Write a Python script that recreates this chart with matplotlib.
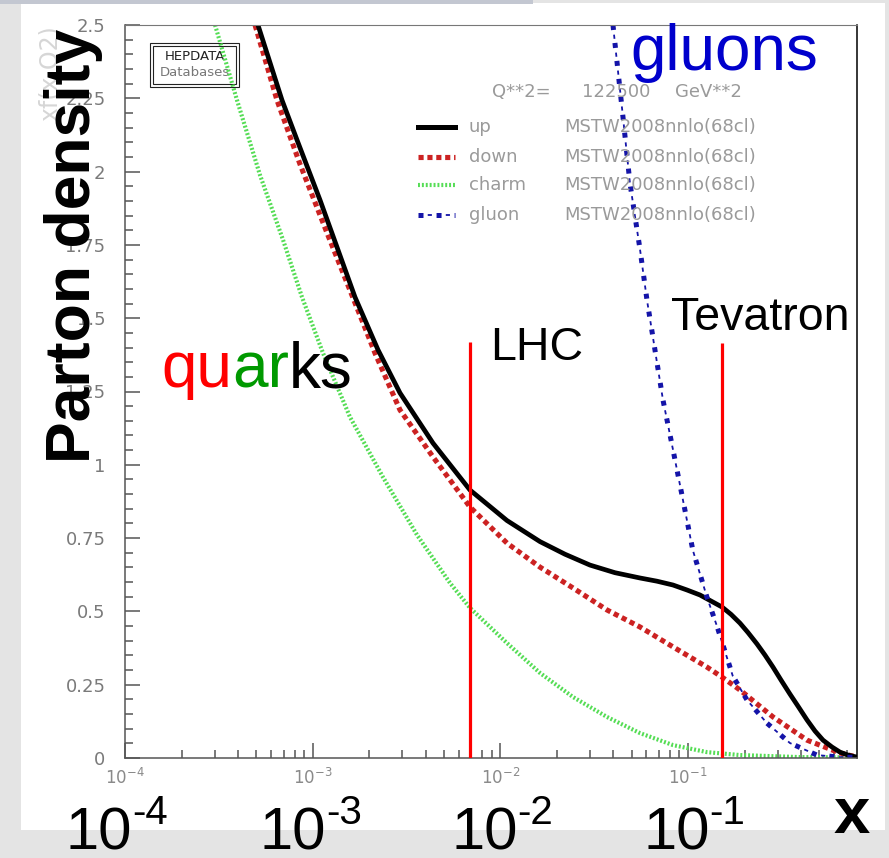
import numpy as np
import matplotlib
matplotlib.use("Agg")
import matplotlib.pyplot as plt
from matplotlib.lines import Line2D
from matplotlib.patches import Rectangle
from matplotlib.ticker import MultipleLocator, LogLocator, FuncFormatter, NullFormatter

plt.rcParams['lines.scale_dashes'] = False

# parton densities xf(x, Q^2)
up_x = [5.11e-4, 6.86e-4, 8.25e-4, 1.094e-3, 1.364e-3, 1.680e-3, 2.228e-3, 2.918e-3, 4.374e-3,
        6.887e-3, 1.084e-2, 1.626e-2, 2.209e-2, 3.001e-2, 4.078e-2, 5.54e-2, 6.83e-2, 8.31e-2,
        9.87e-2, 0.1157, 0.1516, 0.1693, 0.1890, 0.2085, 0.2329, 0.2569, 0.2834, 0.3126,
        0.3490, 0.385, 0.4300, 0.4745, 0.5233, 0.5843, 0.6447, 0.711, 0.794]
up_y = [2.500, 2.244, 2.108, 1.903, 1.733, 1.572, 1.392, 1.245, 1.074,
        0.914, 0.810, 0.738, 0.695, 0.658, 0.632, 0.614, 0.603, 0.590,
        0.573, 0.556, 0.515, 0.490, 0.460, 0.428, 0.389, 0.351, 0.310, 0.266,
        0.218, 0.177, 0.130, 0.092, 0.061, 0.0375, 0.020, 0.010, 0.003]

down_x = [4.93e-4, 6.45e-4, 8.55e-4, 1.192e-3, 1.947e-3, 2.147e-3, 2.918e-3, 4.374e-3, 6.887e-3,
          1.084e-2, 1.626e-2, 2.436e-2, 3.697e-2, 5.54e-2, 8.31e-2, 0.1261, 0.1516, 0.1890,
          0.2834, 0.4300, 0.6447, 0.794]
down_y = [2.500, 2.244, 2.026, 1.791, 1.450, 1.381, 1.187, 1.027, 0.856,
          0.733, 0.651, 0.580, 0.505, 0.447, 0.379, 0.310, 0.276, 0.232,
          0.140, 0.061, 0.017, 0.003]

charm_x = [3.018e-4, 3.95e-4, 5.24e-4, 6.95e-4, 8.77e-4, 1.135e-3, 1.580e-3, 2.368e-3, 3.594e-3,
           5.388e-3, 6.887e-3, 1.084e-2, 1.626e-2, 2.436e-2, 3.697e-2, 5.54e-2, 8.31e-2,
           0.1261, 0.1890, 0.3947, 0.794]
charm_y = [2.500, 2.244, 1.988, 1.767, 1.572, 1.381, 1.163, 0.958, 0.761,
           0.597, 0.512, 0.392, 0.290, 0.208, 0.140, 0.085, 0.044,
           0.020, 0.010, 0.003, 0.002]

gluon_x = [3.98e-2, 4.50e-2, 4.90e-2, 5.55e-2, 6.04e-2, 6.66e-2, 7.35e-2, 8.32e-2, 9.39e-2,
           0.106, 0.126, 0.143, 0.1535, 0.173, 0.206, 0.263, 0.349, 0.486, 0.644, 0.794]
gluon_y = [2.50, 2.186, 1.961, 1.733, 1.562, 1.392, 1.221, 1.050, 0.880,
           0.709, 0.549, 0.447, 0.385, 0.280, 0.198, 0.119, 0.051, 0.010, 0.003, 0.002]

# collider markers (x position, top of the red bar)
collider_names = ['LHC', 'Tevatron']
collider_x = [6.9e-3, 0.151]
collider_top = [1.42, 1.415]

legend_names = ['up', 'down', 'charm', 'gluon']
pdf_set = 'MSTW2008nnlo(68cl)'

W, H = 889, 858
def fx(px):
    return px / W
def fy(py):
    return 1 - py / H

fig = plt.figure(figsize=(W / 100, H / 100), dpi=100, facecolor='#e4e4e4')
fig.patches.append(Rectangle((fx(21), fy(830)), fx(885) - fx(21), fy(3) - fy(830),
                             transform=fig.transFigure, facecolor='white',
                             edgecolor='none', zorder=-10))
fig.patches.append(Rectangle((0, fy(4)), 0.6, 4 / H, transform=fig.transFigure,
                             facecolor='#c3c7d1', edgecolor='none', zorder=-9))

ax = fig.add_axes([fx(125), fy(758), fx(857) - fx(125), fy(25) - fy(758)])
ax.set_xscale('log')
ax.set_xlim(1e-4, 10 ** -0.1)
ax.set_ylim(0, 2.5)

blue = '#1414a8'
ax.plot(charm_x, charm_y, color='#55dd55', lw=3.0, linestyle=(0, (1.4, 1.4)), zorder=2)
ax.plot(down_x, down_y, color='#cc2222', lw=3.7, linestyle=(0, (3.7, 2.7)), zorder=2)
ax.plot(up_x, up_y, color='black', lw=3.4, solid_joinstyle='round', zorder=2.2)
ax.plot(gluon_x, gluon_y, color=blue, lw=3.6, linestyle=(0, (3.6, 9.4)), zorder=2.3)
ax.plot(gluon_x, gluon_y, color=blue, lw=1.3, linestyle=(6, (3, 10)), zorder=2.3)

ax.vlines(collider_x, 0, collider_top, colors='#ff0000', lw=2.3, zorder=3)

# axes styling, ROOT-like
ax.yaxis.set_major_locator(MultipleLocator(0.25))
ax.yaxis.set_minor_locator(MultipleLocator(0.05))
ax.yaxis.set_major_formatter(FuncFormatter(lambda v, p: f'{v:g}'))
ax.xaxis.set_major_locator(LogLocator(base=10))
ax.xaxis.set_minor_locator(LogLocator(base=10, subs=np.arange(2, 10)))
ax.xaxis.set_minor_formatter(NullFormatter())
ax.tick_params(which='both', direction='in', color='#555555', width=1.1,
               top=False, right=False)
ax.tick_params(which='major', length=10.8)
ax.tick_params(which='minor', length=5.8)
ax.tick_params(axis='y', labelsize=13, labelcolor='#7a7a7a', pad=14)
ax.tick_params(axis='x', labelsize=12, labelcolor='#8a8a8a', pad=7)
for s in ['left', 'bottom']:
    ax.spines[s].set_color('#555555')
    ax.spines[s].set_linewidth(1.1)
ax.spines['top'].set_color('#777777')
ax.spines['top'].set_linewidth(0.8)
ax.spines['right'].set_color('black')
ax.spines['right'].set_linewidth(1.1)

# HEPDATA stamp
ax.add_patch(Rectangle((fx(150), fy(87)), fx(239) - fx(150), fy(43) - fy(87),
                       transform=fig.transFigure, fill=False, ec='#222222', lw=0.8, zorder=1))
ax.add_patch(Rectangle((fx(153), fy(84)), fx(236) - fx(153), fy(46) - fy(84),
                       transform=fig.transFigure, fill=False, ec='#222222', lw=0.8, zorder=1))
ax.text(fx(195), fy(57), 'HEPDATA', transform=fig.transFigure, ha='center', va='center',
        fontsize=9.5, color='#222222', zorder=1)
ax.text(fx(195), fy(73), 'Databases', transform=fig.transFigure, ha='center', va='center',
        fontsize=9.5, color='#777777', zorder=1)

# ROOT legend
grey = '#9a9a9a'
ax.text(fx(492), fy(92), 'Q**2=', transform=fig.transFigure, va='center', fontsize=13, color=grey)
ax.text(fx(582), fy(92), '122500', transform=fig.transFigure, va='center', fontsize=13, color=grey)
ax.text(fx(675), fy(92), 'GeV**2', transform=fig.transFigure, va='center', fontsize=13, color=grey)
leg_y = [127, 157, 185, 215]
leg_styles = [dict(color='black', lw=3.6),
              dict(color='#cc2222', lw=3.7, linestyle=(0, (3.7, 2.7))),
              dict(color='#55dd55', lw=3.0, linestyle=(0, (1.4, 1.4))),
              dict(color=blue, lw=3.6, linestyle=(0, (3.6, 9.4)))]
for name, yy, st in zip(legend_names, leg_y, leg_styles):
    ax.add_line(Line2D([fx(418), fx(455)], [fy(yy), fy(yy)], transform=fig.transFigure,
                       zorder=3, **st))
    ax.text(fx(469), fy(yy), name, transform=fig.transFigure, va='center', fontsize=13, color=grey)
    ax.text(fx(564), fy(yy), pdf_set, transform=fig.transFigure, va='center', fontsize=13, color=grey)
ax.add_line(Line2D([fx(418), fx(455)], [fy(215), fy(215)], transform=fig.transFigure,
                   color=blue, lw=1.3, linestyle=(6, (3, 10)), zorder=3))

# faint ROOT y title behind the big one
fig.text(fx(50), fy(25), 'xf(x,Q2)', rotation=90, ha='center', va='top', fontsize=17,
         color='#d6d6d6')

# slide annotations
big = 'Liberation Sans'
fig.text(fx(90), fy(463), 'Parton density', rotation=90, rotation_mode='anchor',
         ha='left', va='baseline', fontsize=45, fontweight='bold', family=big)
fig.text(fx(630), fy(70), 'gluons', color='#0000cc', fontsize=46, family=big,
         ha='left', va='baseline')
fig.text(fx(490), fy(360), collider_names[0], fontsize=33.5, family=big, ha='left', va='baseline')
fig.text(fx(671), fy(330), collider_names[1], fontsize=33.5, family=big, ha='left', va='baseline')

renderer = fig.canvas.get_renderer()
def run_text(x_px, y_px, parts, size):
    x = x_px
    for s, c in parts:
        t = fig.text(fx(x), fy(y_px), s, color=c, fontsize=size, family=big,
                     ha='left', va='baseline')
        x += t.get_window_extent(renderer=renderer).width

run_text(161, 387, [('qu', '#ff0000'), ('ar', '#009900'), ('ks', 'black')], 46)

# big decade labels at the bottom
dec_x = [66, 260, 451, 643]
dec_exp = ['-4', '-3', '-2', '-1']
for xx, e in zip(dec_x, dec_exp):
    t = fig.text(fx(xx), fy(850), '10', fontsize=43, family=big, ha='left', va='baseline')
    w = t.get_window_extent(renderer=renderer).width
    fig.text(fx(xx + w), fy(824), e, fontsize=29, family=big, ha='left', va='baseline')
fig.text(fx(834), fy(833), 'x', fontsize=47, fontweight='bold', family=big,
         ha='left', va='baseline')

fig.savefig('out.png', dpi=100)
